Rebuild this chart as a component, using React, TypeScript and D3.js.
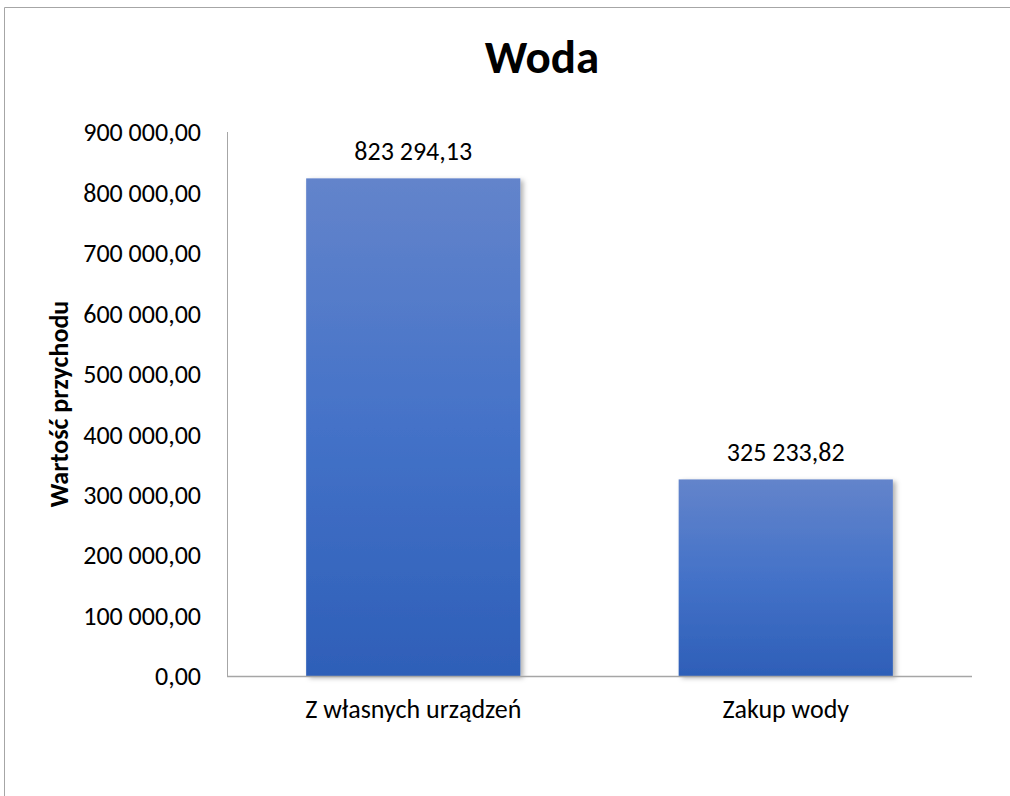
import React from "react";
import * as d3 from "d3";

const title = "Woda";
const categories = ["Z własnych urządzeń", "Zakup wody"];
const values = [823294.13, 325233.82];
const dataLabels = ["823 294,13", "325 233,82"];
const yTicks = [0, 100000, 200000, 300000, 400000, 500000, 600000, 700000, 800000, 900000];
const yAxisTitle = "Wartość przychodu";

const W = 1010;
const H = 796;
const FONT = "Carlito, Lato, 'Open Sans', sans-serif";

function fmt(v: number): string {
  const s = d3.format(",.2f")(v);
  return s.replace(/,/g, " ").replace(".", ",");
}

export default function App() {
  const left = 227;
  const right = 972;
  const top = 132;
  const bottom = 676;
  const x = d3.scaleBand<string>().domain(categories).range([left, right]).paddingInner(0.425).paddingOuter(0.2125);
  const y = d3.scaleLinear().domain([0, 900000]).range([bottom, top]);

  return (
    <svg width={W} height={H} style={{ position: "absolute", left: 0, top: 0, background: "#fff" }} fontFamily={FONT}>
      <defs>
        <linearGradient id="barGrad" x1="0" y1="0" x2="0" y2="1">
          <stop offset="0%" stopColor="#6384CB" />
          <stop offset="50%" stopColor="#4472C8" />
          <stop offset="100%" stopColor="#2E5FB8" />
        </linearGradient>
        <filter id="shadow" x="-10%" y="-10%" width="130%" height="120%">
          <feDropShadow dx="3" dy="2" stdDeviation="2.5" floodColor="#000" floodOpacity="0.3" />
        </filter>
      </defs>
      <rect x={0} y={0} width={W} height={H} fill="#fff" />
      <line x1={4.5} y1={7.5} x2={W} y2={7.5} stroke="#A6A6A6" strokeWidth={1} />
      <line x1={4.5} y1={7.5} x2={4.5} y2={H} stroke="#A6A6A6" strokeWidth={1} />

      <text x={542} y={73} textAnchor="middle" fontSize={47} fontWeight="bold" fill="#000">{title}</text>

      {yTicks.map((t) => (
        <text key={t} x={201} y={y(t)} dy="0.36em" textAnchor="end" fontSize={26} fill="#000">{fmt(t)}</text>
      ))}

      <text transform={`translate(68,404) rotate(-90)`} textAnchor="middle" fontSize={26} fontWeight="bold" fill="#000">{yAxisTitle}</text>

      {categories.map((c, i) => (
        <rect key={c} x={x(c)} y={y(values[i])} width={x.bandwidth()} height={bottom - y(values[i])} fill="url(#barGrad)" filter="url(#shadow)" />
      ))}

      <line x1={left + 0.5} y1={top} x2={left + 0.5} y2={bottom} stroke="#A6A6A6" strokeWidth={1} />
      <line x1={left} y1={bottom + 0.5} x2={right} y2={bottom + 0.5} stroke="#A6A6A6" strokeWidth={1.5} />

      {categories.map((c, i) => (
        <text key={c + "l"} x={(x(c) as number) + x.bandwidth() / 2} y={y(values[i]) - 18} textAnchor="middle" fontSize={26} fill="#000">{dataLabels[i]}</text>
      ))}

      {categories.map((c) => (
        <text key={c + "c"} x={(x(c) as number) + x.bandwidth() / 2} y={718} textAnchor="middle" fontSize={26} fill="#000">{c}</text>
      ))}
    </svg>
  );
}
